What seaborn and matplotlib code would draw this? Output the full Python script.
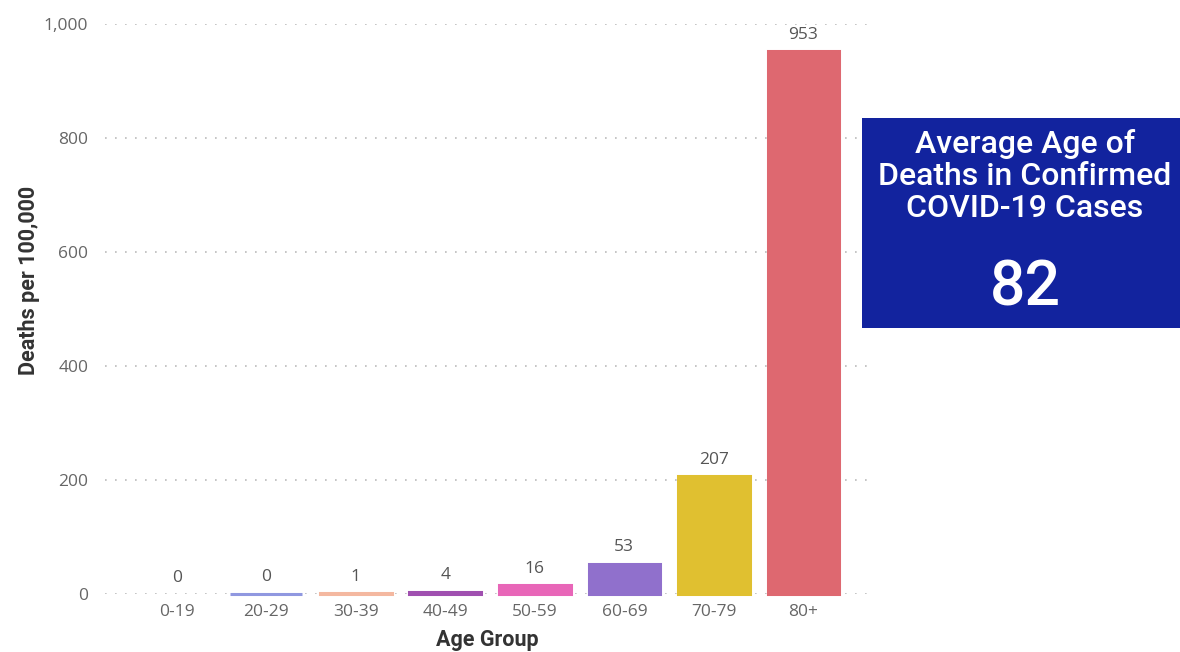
import matplotlib
matplotlib.use("Agg")
import matplotlib.pyplot as plt
import seaborn as sns
import pandas as pd
from matplotlib.patches import Rectangle

age_groups = ["0-19", "20-29", "30-39", "40-49", "50-59", "60-69", "70-79", "80+"]
deaths_per_100k = [0, 0.4, 1, 4, 16, 53, 207, 953]
bar_labels = ["0", "0", "1", "4", "16", "53", "207", "953"]
bar_colors = ["#118DFF", "#9098E0", "#F4B8A0", "#A050B0", "#E866B8",
              "#9070CC", "#E0C030", "#DE6870"]
y_ticks = [0, 200, 400, 600, 800, 1000]
avg_age = 82

df = pd.DataFrame({"age_group": age_groups, "deaths": deaths_per_100k})

sns.set_style("white")
plt.rcParams["font.family"] = ["Open Sans", "DejaVu Sans"]

fig = plt.figure(figsize=(11.8, 6.52), dpi=100)
ax = fig.add_axes([0.089, 0.089, 0.648, 0.874])

sns.barplot(data=df, x="age_group", y="deaths", hue="age_group",
            palette=bar_colors, saturation=1, width=0.8, legend=False,
            ax=ax, zorder=3)

# thin bars still show as a line, like the original
for i, patch in enumerate(ax.patches):
    c = bar_colors[i]
    if deaths_per_100k[i] == 0:
        patch.set_linewidth(0)
    else:
        patch.set_edgecolor(c)
        patch.set_linewidth(2.2)
        patch.set_clip_on(False)
    ax.annotate(bar_labels[i], (patch.get_x() + patch.get_width() / 2, patch.get_height()),
                xytext=(0, 6), textcoords="offset points", ha="center", va="bottom",
                fontsize=12.5, color="#555555")

ax.set_ylim(0, 1000)
ax.set_xlim(-0.8, 7.74)
ax.set_yticks(y_ticks)
ax.set_yticklabels([f"{v:,}" for v in y_ticks])
for v in y_ticks:
    ax.axhline(v, color="#BBBBBB", linestyle=(0, (1, 5)), linewidth=1.2, zorder=1)

sns.despine(ax=ax, left=True, bottom=True)
ax.tick_params(axis="both", length=0, labelsize=12.5, labelcolor="#666666")
ax.tick_params(axis="y", pad=12)
ax.tick_params(axis="x", pad=7)

ax.set_xlabel("Age Group", fontsize=15.5, fontweight="bold", color="#333333",
              family=["Roboto", "DejaVu Sans"], va="center")
ax.set_ylabel("Deaths per 100,000", fontsize=15.5, fontweight="bold", color="#333333",
              family=["Roboto", "DejaVu Sans"])
ax.xaxis.set_label_coords(0.5, -0.08)
ax.yaxis.set_label_coords(-0.085, 0.55)

# summary card on the right
fig.patches.append(Rectangle((862 / 1180, 1 - 328 / 652), 330 / 1180, 210 / 652,
                             transform=fig.transFigure, facecolor="#12239E",
                             edgecolor="none", zorder=0))
fig.text(1025 / 1180, 1 - 176 / 652,
         "Average Age of\nDeaths in Confirmed\nCOVID-19 Cases",
         ha="center", va="center", color="white", fontsize=23, fontweight="medium",
         family=["Roboto", "DejaVu Sans"], linespacing=1.15)
fig.text(1025 / 1180, 1 - 288 / 652, str(avg_age), ha="center", va="center",
         color="white", fontsize=45, fontweight="medium",
         family=["Roboto", "DejaVu Sans"])

fig.savefig("out.png", dpi=100)
